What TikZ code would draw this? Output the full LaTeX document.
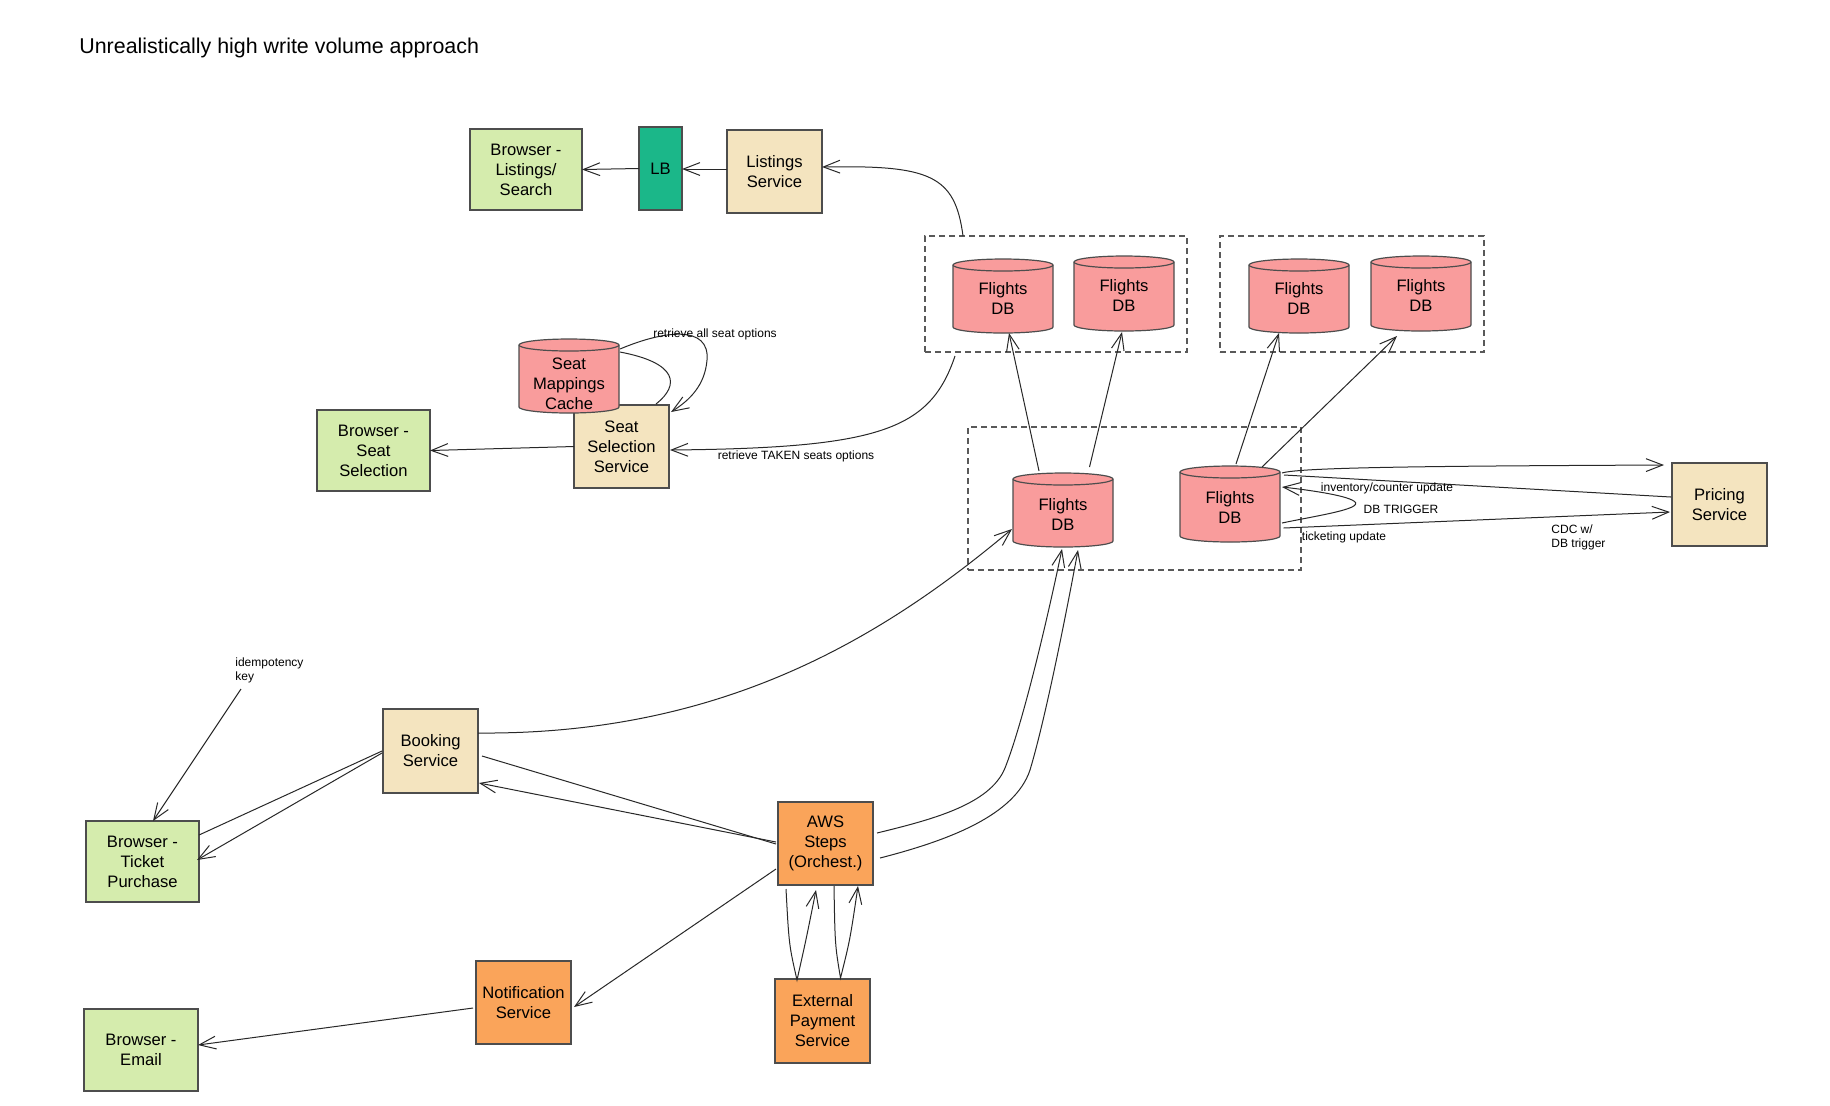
\documentclass[tikz,border=0pt]{standalone}
\usepackage{fontspec}
\setmainfont{Liberation Sans}
\usetikzlibrary{arrows.meta,calc}
\definecolor{cgreen}{RGB}{213,236,173}
\definecolor{cteal}{RGB}{27,183,137}
\definecolor{cbeige}{RGB}{244,228,191}
\definecolor{cpink}{RGB}{249,156,156}
\definecolor{corange}{RGB}{250,164,90}
\definecolor{cborder}{RGB}{77,77,77}
\definecolor{cline}{RGB}{40,40,40}
\tikzset{
 box/.style={draw=cborder, line width=0.6pt, inner sep=0pt, outer sep=0pt, align=center, font=\fontsize{8.3}{10}\selectfont},
 browser/.style={box, fill=cgreen},
 lbbox/.style={box, fill=cteal},
 svc/.style={box, fill=cbeige},
 orng/.style={box, fill=corange},
 group/.style={draw=black!65, line width=0.6pt, dash pattern=on 3pt off 2pt, inner sep=0pt, outer sep=0pt},
 body/.style={inner sep=0pt, outer sep=0pt},
 dbtext/.style={align=center, font=\fontsize{8.3}{10}\selectfont, inner sep=0pt},
 arr/.style={draw=cline, line width=0.5pt, -{Straight Barb[length=8.3pt,width=6.4pt]}},
 ln/.style={draw=cline, line width=0.5pt},
 lbl/.style={font=\fontsize{6}{7}\selectfont, inner sep=0pt},
}
\newcommand\boxnode[7]{\node[#1, minimum width={(#4-#2)*0.5pt}, minimum height={(#5-#3)*0.5pt}] (#6) at ({(#2+#4)/2},{(#3+#5)/2}) {#7};}
\newcommand\dbcyl[7]{%
  \path[draw=cborder, fill=cpink, line width=0.6pt] (#2,#3+6) -- (#2,#5-6) arc[start angle=180, end angle=0, x radius={(#4-#2)/2}, y radius=6] -- (#4,#3+6) arc[start angle=0, end angle=-180, x radius={(#4-#2)/2}, y radius=6] -- cycle;
  \draw[cborder, line width=0.6pt] (#2,#3+6) arc[start angle=180, end angle=0, x radius={(#4-#2)/2}, y radius=6];
  \node[body, minimum width={(#4-#2)*0.5pt}, minimum height={(#5-#3)*0.5pt}] (#1) at ({(#2+#4)/2},{(#3+#5)/2}) {};
  \node[dbtext] (#1-t) at ({(#2+#4)/2},{(#3+#5)/2+#7}) {#6};
}
\begin{document}
\begin{tikzpicture}[x=0.5pt,y=-0.5pt]
\fill[white] (0,0) rectangle (1830,1105);
\useasboundingbox (0,0) rectangle (1830,1105);

\node[anchor=base west, inner sep=0pt, font=\fontsize{10.7}{13}\selectfont] (title) at (79,53) {Unrealistically high write volume approach};

% groups
\boxnode{group}{925}{236}{1187}{352}{g1}{}
\boxnode{group}{1220}{236}{1484}{352}{g2}{}
\boxnode{group}{968}{427}{1301}{570}{g3}{}

% boxes
\boxnode{browser}{470}{129}{582}{210}{brL}{Browser -\\Listings/\\Search}
\boxnode{lbbox}{639}{127}{682}{210}{lb}{LB}
\boxnode{svc}{727}{130}{822}{213}{lst}{Listings\\Service}
\boxnode{svc}{574}{405}{669}{488}{seat}{Seat\\Selection\\Service}
\boxnode{browser}{317}{410}{430}{491}{brS}{Browser -\\Seat\\Selection}
\dbcyl{cache}{519}{339}{619}{413}{Seat\\Mappings\\Cache}{8}
\dbcyl{f1a}{953}{259}{1053}{333}{Flights\\DB}{2}
\dbcyl{f1b}{1074}{256}{1174}{331}{Flights\\DB}{2}
\dbcyl{f2a}{1249}{259}{1349}{333}{Flights\\DB}{2}
\dbcyl{f2b}{1371}{256}{1471}{331}{Flights\\DB}{2}
\dbcyl{f3a}{1013}{473}{1113}{547}{Flights\\DB}{4}
\dbcyl{f3b}{1180}{466}{1280}{542}{Flights\\DB}{3}
\boxnode{svc}{1672}{463}{1767}{546}{price}{Pricing\\Service}
\boxnode{svc}{383}{709}{478}{793}{book}{Booking\\Service}
\boxnode{browser}{86}{821}{199}{902}{brT}{Browser -\\Ticket\\Purchase}
\boxnode{orng}{778}{802}{873}{885}{aws}{AWS\\Steps\\(Orchest.)}
\boxnode{orng}{476}{961}{571}{1044}{notif}{Notification\\Service}
\boxnode{orng}{775}{979}{870}{1063}{ext}{External\\Payment\\Service}
\boxnode{browser}{84}{1009}{198}{1091}{brE}{Browser -\\Email}

% connectors top
\draw[arr] ($(lst.west)+(0,-2.5)$) -- ($(lb.east)+(0,0.5)$);
\draw[arr] (lb.west) -- (brL.east);
\draw[arr] ($(g1.north west)+(38,0)$) .. controls (955,175) and (930,165) .. ($(lst.east)+(0,-4.5)$);

% seat selection
\draw[arr] (seat.west) -- (brS.east);
\draw[ln] ($(seat.north)+(34.5,-1)$) .. controls (680,385) and (678,363) .. ($(cache.east)+(1,-24)$);
\draw[arr] ($(cache.east)+(1,-27)$) .. controls (665,330) and (710,325) .. (707,360) .. controls (705,385) and (690,400) .. ($(seat.north east)+(2,7)$);
\draw[arr] ($(g1.south west)+(30,4)$) .. controls (930,430) and (880,448) .. ($(seat.east)+(1,3.5)$);

% db replication
\draw[arr] ($(f3a.north)+(-24,-2)$) -- ($(f1a.south)+(6,0)$);
\draw[arr] ($(f3a.north)+(26.5,-6)$) -- ($(f1b.south)+(-2,1)$);
\draw[arr] ($(f3b.north)+(6,-2)$) -- ($(f2a.south)+(-20,0)$);
\draw[arr] ($(f3b.north)+(32,1)$) -- ($(f2b.south)+(-24,5)$);

% booking
\draw[arr] ($(book.east)+(0,-18)$) .. controls (720,735) and (880,640) .. ($(f3a.west)+(-1,19)$);
\draw[arr] ($(aws.east)+(4,-10.5)$) .. controls (930,820) and (990,805) .. (1005,768) .. controls (1022,725) and (1045,630) .. ($(f3a.south)+(-1,2)$);
\draw[arr] ($(aws.east)+(7,14.5)$) .. controls (950,840) and (1015,815) .. (1030,770) .. controls (1045,720) and (1065,620) .. ($(f3a.south)+(15,3)$);
\draw[ln] ($(book.east)+(4,5)$) -- ($(aws.west)+(-2,0.5)$);
\draw[arr] ($(aws.west)+(-2,-1.5)$) -- ($(book.south east)+(1,-10)$);
\draw[ln] ($(book.west)+(-1,0)$) -- ($(brT.east)+(0,-26.5)$);
\draw[arr] ($(book.west)+(-1,2)$) -- ($(brT.east)+(-2,-1.5)$);

\node[lbl, anchor=north west, align=left] (idem) at (235,657) {idempotency\\key};
\draw[arr] ($(idem.south west)+(6,6)$) -- ($(brT.north)+(10.5,0)$);

\draw[arr] ($(aws.west)+(-2,25.5)$) -- ($(notif.east)+(3,4.5)$);
\draw[arr] ($(notif.west)+(-3,5.5)$) -- ($(brE.east)+(0,-5)$);

\draw[arr] ($(aws.south)+(-39.5,4)$) .. controls (789,945) .. ($(ext.north)+(-25.5,1)$) .. controls (806,940) .. ($(aws.south)+(-9.5,5)$);
\draw[arr] ($(aws.south)+(8.5,1)$) .. controls (835,945) .. ($(ext.north)+(18,-1)$) .. controls (850,940) .. ($(aws.south)+(32.5,1)$);

% pricing
\draw[arr] ($(f3b.east)+(2,-31)$) .. controls (1300,467) and (1450,466) .. ($(price.west)+(-8,-39.5)$);
\draw[ln] ($(price.west)+(-1,-7.5)$) -- ($(f3b.east)+(4,-29)$);
\draw[arr] ($(f3b.east)+(3.5,24)$) -- ($(price.west)+(-2,7.5)$);
\draw[arr] ($(f3b.east)+(2,19)$) .. controls (1320,515) and (1370,508) .. (1352,500) .. controls (1340,494) and (1300,489) .. ($(f3b.east)+(2,-17)$);

% labels
\node[lbl] (l1) at (715,334) {retrieve all seat options};
\node[lbl] (l2) at (796,456) {retrieve TAKEN seats options};
\node[lbl] (l3) at (1387,488) {inventory/counter update};
\node[lbl] (l4) at (1401,509) {DB TRIGGER};
\node[lbl] (l5) at (1344,537) {ticketing update};
\node[lbl, anchor=west, align=left] (l6) at (1551,537.5) {CDC w/\\DB trigger};
\end{tikzpicture}
\end{document}
